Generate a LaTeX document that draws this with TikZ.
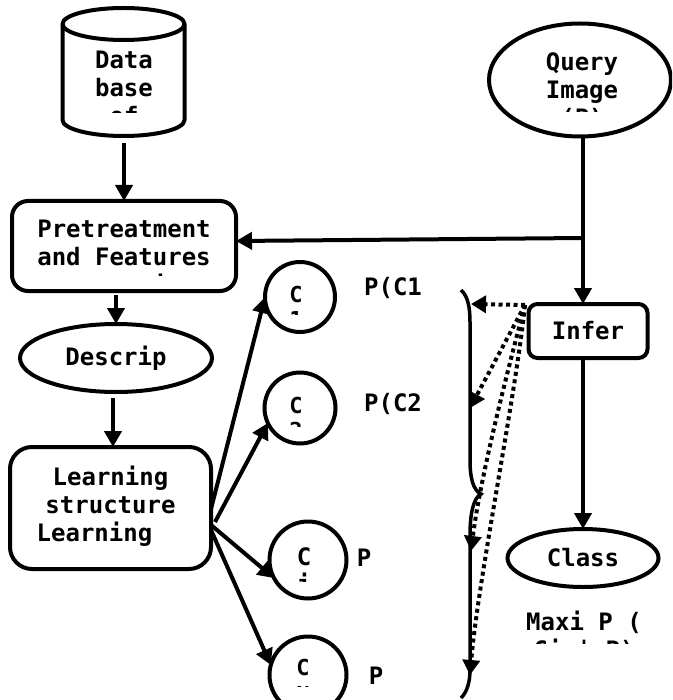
\documentclass[tikz,border=0pt]{standalone}
\usepackage{fontspec}
\setmainfont{DejaVu Sans Mono Bold}
\usetikzlibrary{arrows.meta,shapes.geometric}
\tikzset{
  x=1pt,y=-1pt,
  every node/.style={inner sep=0pt,outer sep=0pt,font=\fontsize{24}{28}\selectfont},
  ln/.style={line width=4pt,black},
  shp/.style={draw,line width=4pt},
  boxn/.style={shp,rectangle,rounded corners=16pt},
  ell/.style={shp,ellipse},
  circ/.style={shp,circle},
  lbl/.style={align=center},
  arr/.style={ln,-{Triangle[width=17pt,length=16pt]}},
  dot/.style={line width=4pt,dash pattern=on 4pt off 3.5pt,-{Triangle[width=17pt,length=15pt]}}
}
\begin{document}
\begin{tikzpicture}
\clip (0,0) rectangle (672,700);
% cylinder
\node (db) at (124,72) [minimum width=123pt,minimum height=128pt] {};
\draw[ln,fill=white] (62.5,24) arc[start angle=180,end angle=360,x radius=61,y radius=16]
  -- (184.5,120) arc[start angle=0,end angle=180,x radius=61,y radius=16] -- cycle;
\draw[ln] (62.5,24) arc[start angle=180,end angle=0,x radius=61,y radius=16];
\begin{scope}\clip (60,42) rectangle (190,113);
\node[lbl] at (124,88) {Data\\base\\of};
\end{scope}
% query
\node[ell,minimum width=182pt,minimum height=113pt] (query) at (580,80) {};
\begin{scope}\clip (490,30) rectangle (670,112);
\node[lbl] at (582,91) {Query\\Image\\(P)};
\end{scope}
% preprocessing
\node[boxn,minimum width=224pt,minimum height=90pt] (pre) at (124,246) {};
\begin{scope}\clip (20,205) rectangle (230,275.4);
\node[lbl] at (124,257) {Pretreatment\\and Features\\extraction};
\end{scope}
% descriptor
\node[ell,minimum width=192pt,minimum height=68pt] (desc) at (116,358) {\raisebox{-2pt}{Descrip}};
% learning
\node[boxn,rounded corners=22pt,minimum width=201pt,minimum height=122pt] (learn) at (110.5,508)
  {\begin{tabular}{@{}c@{}}Learning\\structure\\Learning\rule{32pt}{0pt}\end{tabular}};
% classes
\node[circ,minimum size=70pt] (c1) at (300,297) {};
\begin{scope}\clip (270,270) rectangle (330,314);
\node[lbl,font=\fontsize{22}{25}\selectfont] at (296,307) {C\\1};
\end{scope}
\node[circ,minimum size=71pt] (c2) at (300,408) {};
\begin{scope}\clip (270,380) rectangle (330,426);
\node[lbl,font=\fontsize{22}{25}\selectfont] at (296,418) {C\\2};
\end{scope}
\node[circ,minimum size=77pt] (c3) at (308,560) {};
\begin{scope}\clip (275,530) rectangle (340,581);
\node[lbl,font=\fontsize{24}{27}\selectfont] at (304,570) {C\\i};
\end{scope}
\node[circ,minimum size=77pt] (c4) at (308,675) {};
\begin{scope}\clip (275,645) rectangle (340,686);
\node[lbl,font=\fontsize{22}{27}\selectfont] at (303,681) {C\\N};
\end{scope}
% probabilities
\node (p1) at (393,288) {P(C1};
\node (p2) at (393,404) {P(C2};
\node (p3) at (364,558) {P};
\node (p4) at (376,676) {P};
% inference
\node[boxn,rounded corners=9pt,minimum width=119pt,minimum height=54pt] (infer) at (588,331) {Infer};
\node[ell,minimum width=151pt,minimum height=58pt] (class) at (583,558) {Class};
\begin{scope}\clip (500,600) rectangle (672,643);
\node[lbl] (maxi) at (584,638) {Maxi P (\\Ci | P)};
\end{scope}
% connectors
\coordinate (j) at (583,238);
\draw[arr] ([yshift=-7pt]db.south) -- (pre.north);
\draw[ln] (query.south -| j) -- (j);
\draw[arr] (j) -- (j |- infer.north);
\draw[arr] (j) -- ([yshift=5pt]pre.east);
\draw[arr] (j |- infer.south) -- (j |- class.north);
\draw[arr] ([xshift=-8pt,yshift=-4pt]pre.south) -- ([xshift=-8pt]pre.south |- desc.north);
\draw[arr] ([xshift=-3pt,yshift=-6pt]desc.south) -- ([xshift=-3pt]desc.south |- learn.north);
\draw[arr] ([yshift=-1pt]learn.east) -- (c1.west);
\draw[arr] ([xshift=4pt,yshift=-14pt]learn.east) -- (c2.205);
\draw[arr] ([yshift=-17pt]learn.east) -- (c3.208);
\draw[arr] ([yshift=-22pt]learn.east) -- (c4.165);
% brace
\draw[ln,line width=3.5pt] (461,290) .. controls (468,296) and (470,308) .. (470,322)
  -- (470,460) .. controls (470,478) and (473,490) .. (481,494)
  .. controls (473,498) and (470,515) .. (470,535)
  -- (470,670) .. controls (470,682) and (467,692) .. (461,698);
% dotted
\coordinate (s) at (525,305);
\coordinate (t1) at (471,304);
\coordinate (t2) at (470,408);
\coordinate (t3) at (471,551);
\coordinate (t4) at (470,675);
\draw[dot] (s) -- (t1);
\draw[dot] (s) -- (t2);
\draw[dot] (s) .. controls (505,380) and (480,480) .. (t3);
\draw[dot] (s) .. controls (515,400) and (478,580) .. (t4);
\end{tikzpicture}
\end{document}
